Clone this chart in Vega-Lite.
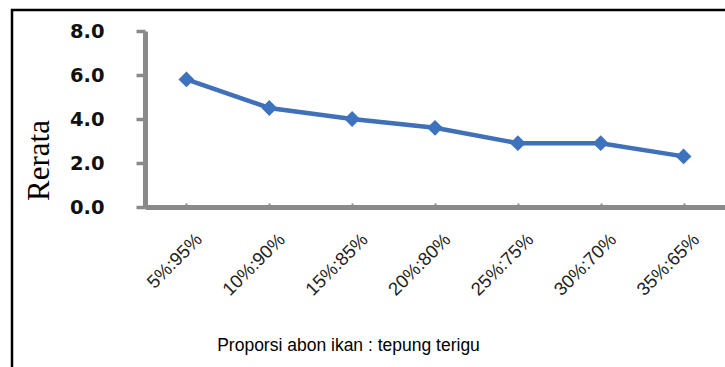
{
  "$schema": "https://vega.github.io/schema/vega-lite/v6.json",
  "width": 720,
  "height": 365,
  "autosize": {"type": "none"},
  "padding": {"left": 12, "top": 10, "right": 0, "bottom": 0},
  "background": "white",
  "config": {"view": {"stroke": "black", "strokeWidth": 2.5}},
  "data": {
    "values": [
      {"proporsi": "5%:95%", "rerata": 5.8},
      {"proporsi": "10%:90%", "rerata": 4.5},
      {"proporsi": "15%:85%", "rerata": 4.0},
      {"proporsi": "20%:80%", "rerata": 3.6},
      {"proporsi": "25%:75%", "rerata": 2.9},
      {"proporsi": "30%:70%", "rerata": 2.9},
      {"proporsi": "35%:65%", "rerata": 2.3}
    ]
  },
  "encoding": {
    "x": {
      "field": "proporsi",
      "type": "nominal",
      "sort": null,
      "scale": {"type": "point", "padding": 0.5, "range": [133, 713]},
      "axis": {
        "orient": "bottom",
        "offset": -168,
        "labelAngle": -45,
        "labelAlign": "right",
        "labelBaseline": "middle",
        "labelFont": "Liberation Sans",
        "labelFontSize": 18.5,
        "labelColor": "#222222",
        "labelOverlap": false,
        "labelBound": false,
        "labelPadding": 33,
        "labelOffset": 12,
        "domainColor": "#8a8a8a",
        "domainWidth": 5,
        "ticks": true,
        "tickColor": "#8a8a8a",
        "tickWidth": 2,
        "tickSize": -4,
        "title": "Proporsi abon ikan : tepung terigu",
        "titleFont": "Liberation Sans",
        "titleFontSize": 17.5,
        "titleFontWeight": "normal",
        "titleColor": "black",
        "titleX": 336,
        "titleY": 143,
        "titleAlign": "center",
        "titleBaseline": "alphabetic"
      }
    },
    "y": {
      "field": "rerata",
      "type": "quantitative",
      "scale": {"domain": [0, 8], "range": [197, 21], "nice": false, "zero": true},
      "axis": {
        "orient": "left",
        "offset": -133,
        "values": [0, 2, 4, 6, 8],
        "format": ".1f",
        "grid": false,
        "labelFont": "DejaVu Sans",
        "labelFontWeight": "bold",
        "labelFontSize": 19.5,
        "labelColor": "#111111",
        "labelPadding": 32,
        "domainColor": "#8a8a8a",
        "domainWidth": 5,
        "tickColor": "#8a8a8a",
        "tickWidth": 3.5,
        "tickSize": 9,
        "title": "Rerata",
        "titleFont": "Liberation Serif",
        "titleFontSize": 31,
        "titleFontWeight": "normal",
        "titleColor": "black",
        "titleAngle": -90,
        "titleX": -106,
        "titleY": 150,
        "titleAlign": "center",
        "titleBaseline": "middle"
      }
    }
  },
  "layer": [
    {"mark": {"type": "line", "color": "#4070b8", "strokeWidth": 4.5}},
    {"mark": {"type": "point", "shape": "diamond", "filled": true, "size": 250, "color": "#3d72bf", "opacity": 1}}
  ]
}
